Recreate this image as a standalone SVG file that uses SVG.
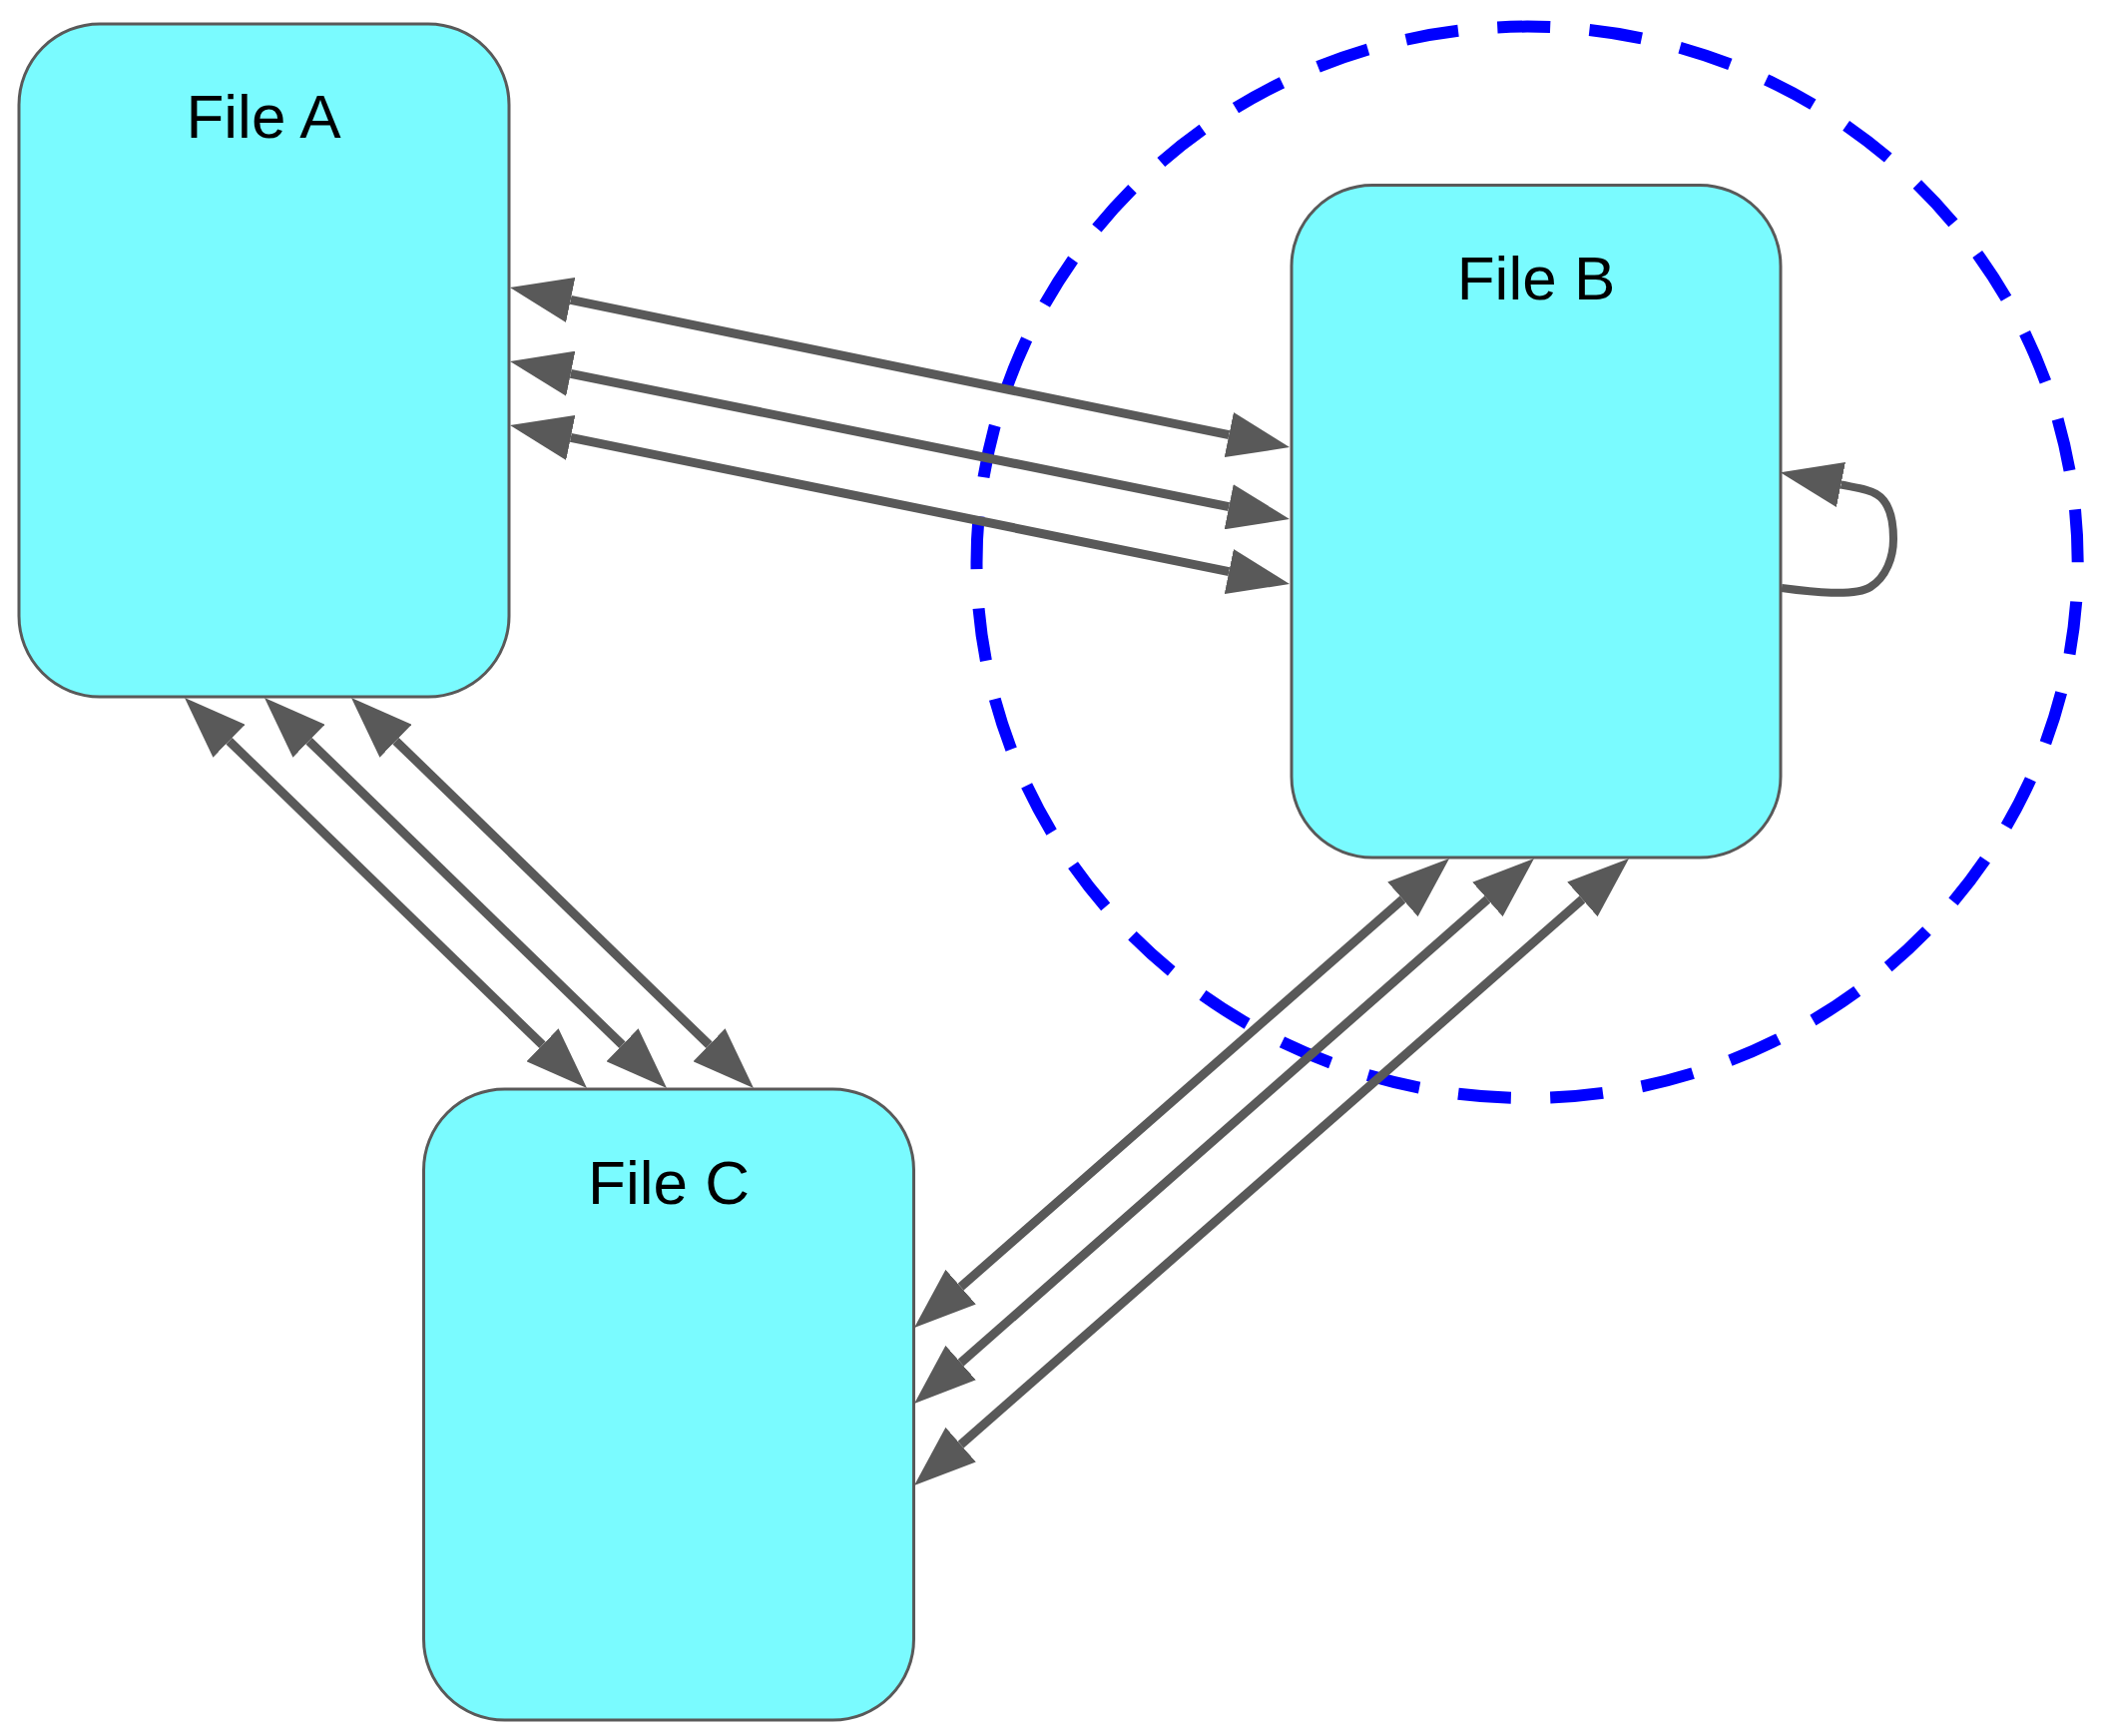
<svg xmlns="http://www.w3.org/2000/svg" width="2108" height="1739" viewBox="0 0 2108 1739">
  <style>
    .node rect { fill: #7afbff; stroke: #595959; stroke-width: 3; }
    .node text { font-family: "Liberation Sans", Arial, sans-serif; font-size: 62px; fill: #000000; text-anchor: middle; }
    .edge { fill: none; stroke: #595959; stroke-width: 9; }
    .both { marker-start: url(#head); marker-end: url(#head); }
    .loop { stroke-width: 8; marker-end: url(#head); }
    .scope { fill: none; stroke: #0000ff; stroke-width: 12; stroke-dasharray: 57.36 42.64; }
  </style>
  <defs>
    <marker id="head" viewBox="0 0 62 46" markerUnits="userSpaceOnUse" markerWidth="62" markerHeight="46" refX="0" refY="23" orient="auto-start-reverse">
      <path d="M0,0 L62,23 L0,46 Z" fill="#595959"/>
    </marker>
  </defs>

  <rect width="2108" height="1739" fill="#ffffff"/>

  <!-- dashed boundary around File B -->
  <g id="boundary">
    <path class="scope" pathLength="3700" d="M2081.7,563.3 A551.6,536.7 0 1 0 978.5,563.3 A551.6,536.7 0 1 0 2081.7,563.3 Z"/>
  </g>

  <g id="file-a" class="node">
    <rect x="19" y="24" width="491" height="674" rx="81" ry="81"/>
    <text x="264" y="138">File A</text>
  </g>

  <g id="file-b" class="node">
    <rect x="1294" y="185.5" width="490" height="673.5" rx="81" ry="81"/>
    <text x="1539" y="300">File B</text>
  </g>

  <g id="file-c" class="node">
    <rect x="424.5" y="1091" width="491" height="632" rx="81" ry="81"/>
    <text x="670" y="1206">File C</text>
  </g>

  <g id="connectors">
    <!-- A <-> B -->
    <path class="edge both" d="M571.7,300.4 L1231.3,435.6"/>
    <path class="edge both" d="M571.8,374.3 L1231.2,507.7"/>
    <path class="edge both" d="M571.8,438.4 L1231.3,572.6"/>
    <!-- A <-> C -->
    <path class="edge both" d="M229.5,742.2 L543.5,1046.8"/>
    <path class="edge both" d="M309.5,742.2 L623.5,1046.8"/>
    <path class="edge both" d="M396.5,742.2 L710.5,1046.8"/>
    <!-- B <-> C -->
    <path class="edge both" d="M1405.4,900.9 L962.6,1289.1"/>
    <path class="edge both" d="M1490.4,900.9 L962.6,1365.1"/>
    <path class="edge both" d="M1585.4,900.9 L962.6,1447.1"/>
    <!-- B self reference -->
    <path class="edge loop" d="M1785,589 C1815,593 1858,598 1874,588 C1890,578 1897,558 1897,540 C1897,518 1892,502 1880,495 C1872,490 1862,489 1844.5,485.5"/>
  </g>
</svg>
